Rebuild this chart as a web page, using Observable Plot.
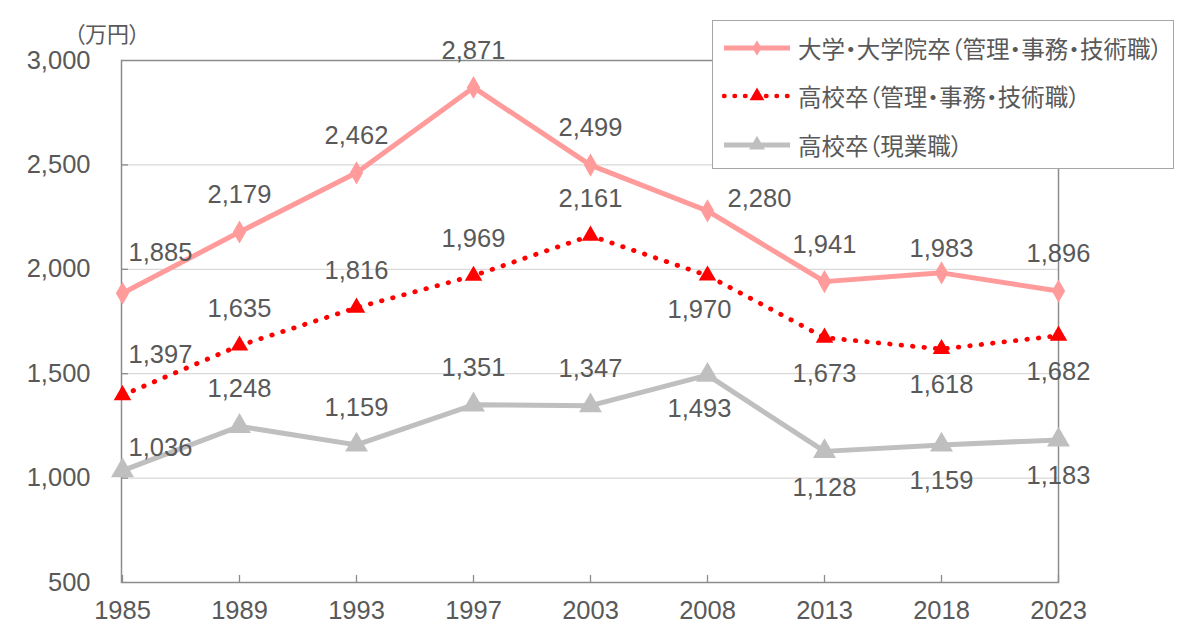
<!DOCTYPE html>
<html>
<head>
<meta charset="utf-8">
<script src="https://cdn.jsdelivr.net/npm/d3@7"></script>
<script src="https://cdn.jsdelivr.net/npm/@observablehq/plot@0.6"></script>
<style>
  html, body { margin: 0; padding: 0; background: #fff; }
  #wrap { position: relative; width: 1200px; height: 630px; overflow: hidden; background: #fff; }
  #unit { position: absolute; left: 74px; top: 16px; font-family: "Noto Sans CJK JP", sans-serif; font-size: 22px; color: #595959; font-feature-settings: "palt"; }
  #legend { position: absolute; left: 712px; top: 20px; width: 462px; height: 149px; border: 1.5px solid #a6a6a6; background: #fff; box-sizing: border-box; }
  .row { position: absolute; left: 8px; height: 40px; display: flex; align-items: center; }
  .row span { font-family: "Noto Sans CJK JP", sans-serif; font-size: 23.5px; color: #595959; margin-left: 7px; font-feature-settings: "palt"; white-space: nowrap; }
</style>
</head>
<body>
<div id="wrap">
  <div id="chart"></div>
  <div id="unit"></div>
  <div id="legend"></div>
</div>
<script>
// ---- data ----
const years = ["1985", "1989", "1993", "1997", "2003", "2008", "2013", "2018", "2023"];
const univValues = [1885, 2179, 2462, 2871, 2499, 2280, 1941, 1983, 1896];
const hsOfficeValues = [1397, 1635, 1816, 1969, 2161, 1970, 1673, 1618, 1682];
const hsFieldValues = [1036, 1248, 1159, 1351, 1347, 1493, 1128, 1159, 1183];
const seriesNames = ["大学・大学院卒（管理・事務・技術職）", "高校卒（管理・事務・技術職）", "高校卒（現業職）"];
const yTicks = [500, 1000, 1500, 2000, 2500, 3000];
const gridTicks = [1000, 1500, 2000, 2500];
const unitLabel = "（万円）";

// label placement codes (annotation layout)
const univLabelPos = ["ne", "n", "n", "n", "n", "e", "n", "nl", "n"];
const hsOfficeLabelPos = ["ne", "n", "n", "n", "n", "sw", "s", "s", "s"];
const hsFieldLabelPos = ["nel", "n", "n", "n", "n", "sw", "s", "s", "s"];
const placement = {
  n: [0, -37], s: [0, 36], ne: [38, -40], nel: [38, -23], e: [52, -12], nl: [0, -24], sw: [-8, 34]
};

const colors = ["#ff9b9b", "#ff0000", "#bfbfbf"];
const fmt = d3.format(",");

function rows(values, pos) {
  return years.map((y, i) => ({year: y, value: values[i], pos: pos[i]}));
}
const univ = rows(univValues, univLabelPos);
const hsOffice = rows(hsOfficeValues, hsOfficeLabelPos);
const hsField = rows(hsFieldValues, hsFieldLabelPos);

function labels(data) {
  return Object.keys(placement).map(code => Plot.text(data.filter(d => d.pos === code), {
    x: "year", y: "value", text: d => fmt(d.value),
    dx: placement[code][0], dy: placement[code][1],
    fill: "#595959", fontSize: 25.5, lineAnchor: "middle"
  }));
}

const chart = Plot.plot({
  width: 1200, height: 630,
  marginLeft: 121, marginRight: 142, marginTop: 60, marginBottom: 48,
  x: {type: "point", domain: years, padding: 0},
  y: {domain: [500, 3000]},
  style: {fontFamily: "'Liberation Sans', Arial, sans-serif", fontSize: "25.5px", color: "#595959", background: "#fff"},
  marks: [
    Plot.gridY(gridTicks, {stroke: "#d9d9d9", strokeOpacity: 1, strokeWidth: 1.3}),
    Plot.frame({stroke: "#8c8c8c", strokeWidth: 1.5}),
    Plot.axisY({ticks: yTicks, tickSize: 0, tickPadding: 31, tickFormat: fmt, label: null, fontSize: 25.5}),
    Plot.axisY({ticks: gridTicks, tickSize: -7, tickFormat: () => "", label: null, stroke: "#8c8c8c", strokeWidth: 1.3}),
    Plot.axisX({tickSize: 0, tickPadding: 18, label: null, fontSize: 25.5}),
    Plot.axisX({tickSize: -7, tickFormat: () => "", label: null, stroke: "#8c8c8c", strokeWidth: 1.3}),
    Plot.line(hsField, {x: "year", y: "value", stroke: colors[2], strokeWidth: 5}),
    Plot.dot(hsField, {x: "year", y: "value", symbol: "triangle", r: 8.5, fill: colors[2]}),
    Plot.line(hsOffice, {x: "year", y: "value", stroke: colors[1], strokeWidth: 4.8, strokeDasharray: "0.5 11", strokeLinecap: "round"}),
    Plot.dot(hsOffice, {x: "year", y: "value", symbol: "triangle", r: 6.5, fill: colors[1]}),
    Plot.line(univ, {x: "year", y: "value", stroke: colors[0], strokeWidth: 5}),
    Plot.dot(univ, {x: "year", y: "value", symbol: "diamond", r: 7, fill: colors[0]}),
    ...labels(univ),
    ...labels(hsOffice),
    ...labels(hsField)
  ]
});
document.getElementById("chart").appendChild(chart);
document.getElementById("unit").textContent = unitLabel;

// legend
const legend = d3.select("#legend");
const sampleSpecs = [
  {dash: null, sym: d3.symbolDiamond, size: 70, width: 5},
  {dash: "0.5 10", sym: d3.symbolTriangle, size: 95, width: 4.5},
  {dash: null, sym: d3.symbolTriangle, size: 110, width: 5}
];
const rowTops = [7, 55, 104];
seriesNames.forEach((name, i) => {
  const row = legend.append("div").attr("class", "row").style("top", rowTops[i] + "px");
  const svg = row.append("svg").attr("width", 70).attr("height", 40);
  const s = sampleSpecs[i];
  svg.append("line").attr("x1", 3).attr("x2", 69).attr("y1", 20).attr("y2", 20)
    .attr("stroke", colors[i]).attr("stroke-width", s.width)
    .attr("stroke-dasharray", s.dash).attr("stroke-linecap", s.dash ? "round" : "butt");
  svg.append("path").attr("d", d3.symbol(s.sym, s.size)()).attr("transform", "translate(36,20)").attr("fill", colors[i]);
  row.append("span").text(name);
});
</script>
</body>
</html>
